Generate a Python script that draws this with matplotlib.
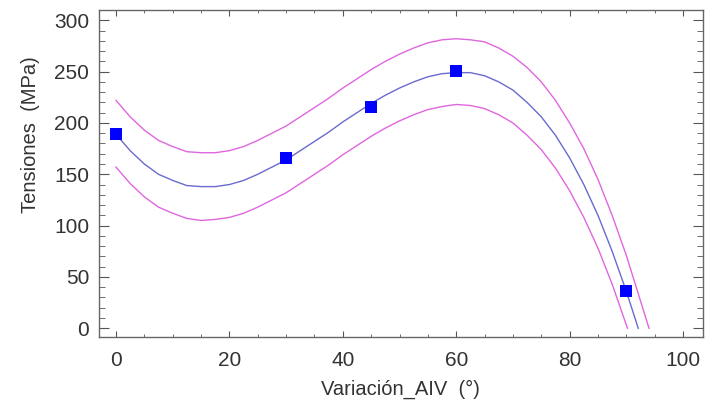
import matplotlib
matplotlib.use('Agg')
import matplotlib.pyplot as plt
from matplotlib.ticker import MultipleLocator

plt.rcParams['font.family'] = ['Liberation Sans', 'DejaVu Sans']

# measured points
var_aiv = [0, 30, 45, 60, 90]
tension = [189, 166, 216, 251, 36]

# fitted curve
fit_x = [0, 2.5, 5, 7.5, 10, 12.5, 15, 17.5, 20, 22.5, 25, 27.5, 30, 32.5, 35, 37.5,
         40, 42.5, 45, 47.5, 50, 52.5, 55, 57.5, 60, 62.5, 65, 67.5, 70, 72.5, 75,
         77.5, 80, 82.5, 85, 87.5, 90, 92.1]
fit_y = [189, 173, 160, 150, 144, 139, 138, 138, 140, 144, 150, 157, 164, 173, 182, 191,
         201, 210, 219, 227, 234, 240, 245, 248, 249, 249, 246, 240, 232, 220, 206,
         188, 166, 140, 110, 75, 36, 0]

# upper confidence limit
up_x = fit_x[:-1] + [94.0]
up_y = [222, 206, 193, 183, 177, 172, 171, 171, 173, 177, 183, 190, 197, 206, 215, 224,
        234, 243, 252, 260, 267, 273, 278, 281, 282, 281, 279, 273, 265, 254, 240,
        222, 200, 175, 145, 110, 71, 0]

# lower confidence limit
lo_x = fit_x[:-2] + [90.2]
lo_y = [157, 141, 128, 118, 112, 107, 105, 106, 108, 112, 118, 125, 132, 141, 150, 159,
        169, 178, 187, 195, 202, 208, 213, 216, 218, 217, 214, 208, 200, 188, 174,
        156, 134, 108, 78, 43, 0]

fig = plt.figure(figsize=(7.05, 4.01), dpi=100)
ax = fig.add_axes([0.1404, 0.1596, 0.8566, 0.8154])

ax.plot(up_x, up_y, color='#e066e0', lw=1.0)
ax.plot(lo_x, lo_y, color='#e066e0', lw=1.0)
ax.plot(fit_x, fit_y, color='#6a6ad0', lw=1.0)
ax.plot(var_aiv, tension, 's', color='#0000ff', markersize=9, markeredgewidth=0)

ax.set_xlim(-3, 103.5)
ax.set_ylim(-8.5, 310)
ax.xaxis.set_major_locator(MultipleLocator(20))
ax.xaxis.set_minor_locator(MultipleLocator(5))
ax.yaxis.set_major_locator(MultipleLocator(50))
ax.yaxis.set_minor_locator(MultipleLocator(10))

ax.tick_params(axis='both', which='both', direction='in', top=True, right=True,
               colors='#555555', labelcolor='#333333', labelsize=15)
ax.tick_params(axis='y', which='major', length=7, pad=7)
ax.tick_params(axis='y', which='minor', length=4.3)
ax.tick_params(axis='x', which='major', length=4.3, pad=10)
ax.tick_params(axis='x', which='minor', length=2.5)
for s in ax.spines.values():
    s.set_color('#666666')
    s.set_linewidth(1.0)

ax.set_xlabel('Variación_AIV  (°)', fontsize=14.5, color='#333333', labelpad=7)
ax.set_ylabel('Tensiones  (MPa)', fontsize=14.5, color='#333333')
ax.yaxis.set_label_coords(-0.098, 0.62)

fig.savefig('out.png', dpi=100)
